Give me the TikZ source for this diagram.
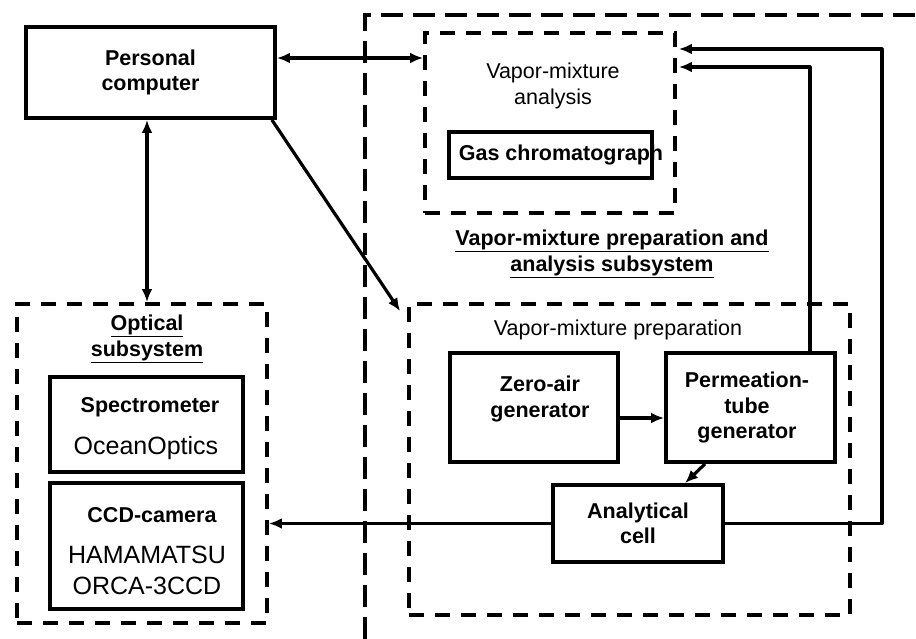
\documentclass[tikz,border=0pt]{standalone}
\usepackage{fontspec}
\setmainfont{Liberation Sans}
\usetikzlibrary{arrows.meta,calc}
\begin{document}
\begin{tikzpicture}[x=1pt,y=-1pt,
  box/.style={draw, line width=3.8pt, inner sep=0pt, align=center,
    font=\fontsize{21.5}{25.5}\selectfont\bfseries},
  dbox/.style={draw, line width=3.8pt, dash pattern=on 15pt off 11pt, inner sep=0pt},
  obox/.style={draw, line width=3.8pt, dash pattern=on 22pt off 10pt},
  arr/.style={line width=3.2pt, -{Latex[length=13pt,width=11pt]}},
  darr/.style={line width=3.2pt, {Latex[length=13pt,width=11pt]}-{Latex[length=13pt,width=11pt]}},
  txt/.style={inner sep=0pt, align=center, font=\fontsize{21.5}{26}\selectfont},
  txtb/.style={inner sep=0pt, align=center, font=\fontsize{21.5}{25.5}\selectfont\bfseries},
  txtl/.style={inner sep=0pt, align=center, font=\fontsize{25}{30}\selectfont}]
\useasboundingbox (0,0) rectangle (916,639);
\fill[white] (0,0) rectangle (916,639);

% outer subsystem frame (cut off by the picture edge)
\draw[obox] (365,639) -- (365,15) -- (916,15);

% personal computer
\node[box, minimum width=249, minimum height=91] (pc) at (150.5,72.5) {Personal\\computer};

% analysis part
\node[dbox, minimum width=250, minimum height=180] (an) at (550,123) {};
\node[txt] (antitle) at (553,86) {Vapor-mixture\\analysis};
\node[box, minimum width=203, minimum height=46] (gc) at (550.5,155) {};
\node[txtb] (gctext) at (561,155) {Gas chromatograph};

% subsystem title
\node[txtb, font=\fontsize{21.5}{26}\selectfont\bfseries] (subtitle) at (612,254)
  {\underline{Vapor-mixture preparation and}\\\underline{analysis subsystem}};

% preparation part
\node[dbox, minimum width=441, minimum height=311] (prep) at (629.5,459.5) {};
\node[txt] (preptitle) at (618,330) {Vapor-mixture preparation};
\node[box, minimum width=168, minimum height=109] (zero) at (534,407.5) {};
\node[txtb] (zerotext) at (540,399) {Zero-air\\generator};
\node[box, minimum width=169, minimum height=109] (perm) at (750.5,407.5) {};
\node[txtb] (permtext) at (747,407.5) {Permeation-\\tube\\generator};
\node[box, minimum width=170, minimum height=77] (cell) at (638,523.5) {Analytical\\cell};

% optical subsystem
\node[dbox, minimum width=250, minimum height=319] (opt) at (142,463.5) {};
\node[txtb] (opttitle) at (147,339) {\underline{Optical}\\\underline{subsystem}};
\node[box, minimum width=193, minimum height=95] (spec) at (146.5,424.5) {};
\node[txtb] (spectext) at (150,407) {Spectrometer};
\node[txtl] (specmodel) at (146,448) {OceanOptics};
\node[box, minimum width=193, minimum height=126] (ccd) at (146.5,546) {};
\node[txtb] (ccdtext) at (152,515) {CCD-camera};
\node[txtl, font=\fontsize{25}{31}\selectfont] (ccdmodel) at (147,570.5) {HAMAMATSU\\ORCA-3CCD};

% connectors
\draw[darr] ([xshift=-3.5]pc.south) -- ([xshift=-3.5]pc.south |- opt.north);
\draw[darr] ([yshift=14.5]pc.east) -- ([yshift=14.5]pc.east -| an.west);
\draw[arr] ([xshift=-5]pc.south east) -- ([shift={(-7,9)}]prep.north west);
\draw[arr] ([yshift=-10.5]zero.east) -- ([yshift=-10.5]zero.east -| perm.west);
\draw[arr] ([xshift=-45.5]perm.south) -- ([xshift=47]cell.north);
\draw[arr] (cell.west) -- (cell.west -| opt.east);
\coordinate (r1) at (882,49);
\coordinate (r2) at (810,67);
\draw[arr, line join=round] (cell.east) -| (r1) -- ([xshift=2]r1 -| an.east);
\draw[arr, line join=round] (perm.north -| r2) -- (r2) -- ([xshift=2]r2 -| an.east);
\end{tikzpicture}
\end{document}
